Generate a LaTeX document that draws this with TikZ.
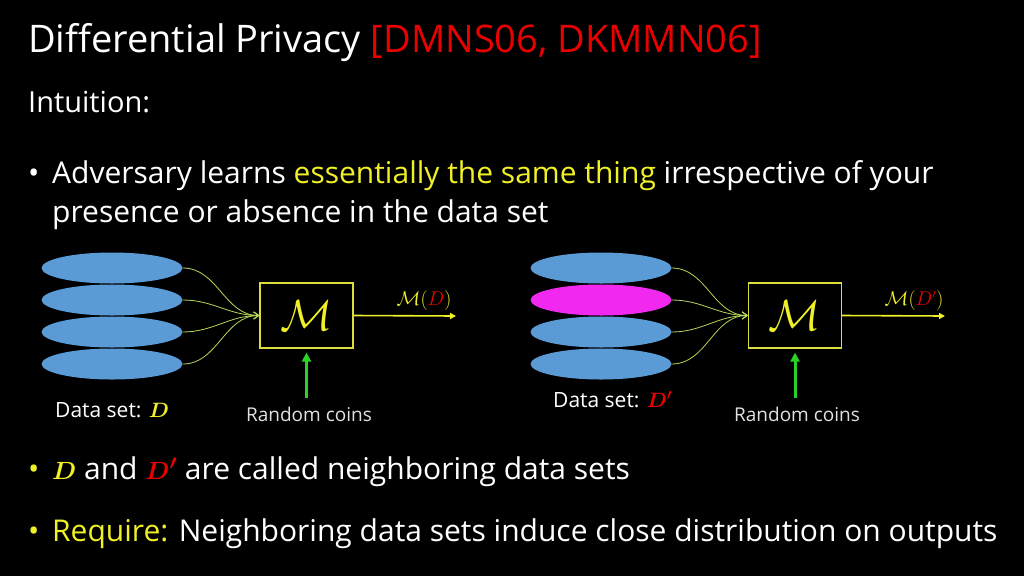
\documentclass[tikz,border=0pt]{standalone}
\usepackage{fontspec}
\setmainfont{Open Sans}
\usepackage{amsmath,bm,graphicx}
\usetikzlibrary{arrows.meta,shapes.geometric}
\definecolor{ylw}{RGB}{240,240,40}
\definecolor{redt}{RGB}{235,0,0}
\definecolor{blueell}{RGB}{91,155,213}
\definecolor{mag}{RGB}{240,40,240}
\definecolor{curvecol}{RGB}{180,215,90}
\definecolor{boxcol}{RGB}{220,220,60}
\definecolor{grn}{RGB}{40,210,40}
\definecolor{gry}{RGB}{225,225,225}
\newcommand{\bigM}{\scalebox{1.75}{$\mathcal{M}$}}
\begin{document}
\begin{tikzpicture}[x=1pt,y=-1pt,
  txt/.style={anchor=base west,inner sep=0pt,text=white},
  big/.style={txt,font=\fontsize{30}{36}\selectfont},
  ell/.style={ellipse,minimum width=141pt,minimum height=31pt,inner sep=0pt,fill=blueell},
  mbox/.style={draw=boxcol,line width=1.2pt,minimum width=93pt,minimum height=65pt,inner sep=0pt,text=ylw,font=\fontsize{25}{30}\selectfont},
  curve/.style={draw=curvecol,line width=0.8pt,-{Straight Barb[length=5pt,width=7pt]}},
  yarrow/.style={draw=ylw,line width=1.6pt,-{Triangle[length=6pt,width=6pt]}},
  garrow/.style={draw=grn,line width=3pt,-{Triangle[length=9pt,width=9pt]}},
  lab/.style={inner sep=0pt,text=ylw,font=\fontsize{16}{20}\selectfont},
  coins/.style={inner sep=0pt,text=gry,font=\fontsize{19}{22}\selectfont},
  dset/.style={txt,font=\fontsize{21}{25}\selectfont}]
\fill[black] (0,0) rectangle (1024,576);
\useasboundingbox (0,0) rectangle (1024,576);
% title and text
\node[txt,font=\fontsize{38}{44}\selectfont] (title) at (28,52) {Differential Privacy \textcolor{redt}{[DMNS06, DKMMN06]}};
\node[txt,font=\fontsize{29}{34}\selectfont] (intu) at (28,112) {Intuition:};
\node[big] (b1) at (28,183) {•};
\node[big] (l1) at (52,183) {Adversary learns \textcolor{ylw}{essentially the same thing} irrespective of your};
\node[big] (l2) at (52,222) {presence or absence in the data set};
\node[big,text=ylw] (b2) at (28,479) {•};
\node[big] (l3) at (52,479) {$\textcolor{ylw}{\bm{D}}$ and $\textcolor{redt}{\bm{D'}}$ are called neighboring data sets};
\node[big,text=ylw] (b3) at (28,541) {•};
\node[big] (l4) at (52,541) {\textcolor{ylw}{Require:} Neighboring data sets induce close distribution on outputs};
% left diagram
\node[ell] (a1) at (112,268) {};
\node[ell] (a2) at (112,300) {};
\node[ell] (a3) at (112,332) {};
\node[ell] (a4) at (112,364) {};
\node[mbox] (m1) at (306.5,315.5) {\bigM};
\foreach \e in {a1,a2,a3,a4} \draw[curve] (\e.east) to[out=0,in=180] (m1.west);
\coordinate (o1) at (456,316);
\draw[yarrow] (m1.east) -- (o1);
\node[lab] (ml1) at (424,301) {\scalebox{1.15}{$\mathcal{M}(\textcolor{redt}{D})$}};
\coordinate (g1) at (306.5,398);
\draw[garrow] (g1) -- ([yshift=-4pt]m1.south);
\node[coins] (c1) at (309,414) {Random coins};
\node[dset] (d1) at (55,417) {Data set: $\textcolor{ylw}{\bm{D}}$};
% right diagram
\node[ell] (b1a) at (601,268) {};
\node[ell,fill=mag] (b2a) at (601,300) {};
\node[ell] (b3a) at (601,332) {};
\node[ell] (b4a) at (601,364) {};
\node[mbox] (m2) at (795,315.5) {\bigM};
\foreach \e in {b1a,b2a,b3a,b4a} \draw[curve] (\e.east) to[out=0,in=180] (m2.west);
\coordinate (o2) at (945,316);
\draw[yarrow] (m2.east) -- (o2);
\node[lab] (ml2) at (914,301) {\scalebox{1.15}{$\mathcal{M}(\textcolor{redt}{D'})$}};
\coordinate (g2) at (795,398);
\draw[garrow] (g2) -- ([yshift=-4pt]m2.south);
\node[coins] (c2) at (797,414) {Random coins};
\node[dset] (d2) at (553,407) {Data set: $\textcolor{redt}{\bm{D'}}$};
\end{tikzpicture}
\end{document}
